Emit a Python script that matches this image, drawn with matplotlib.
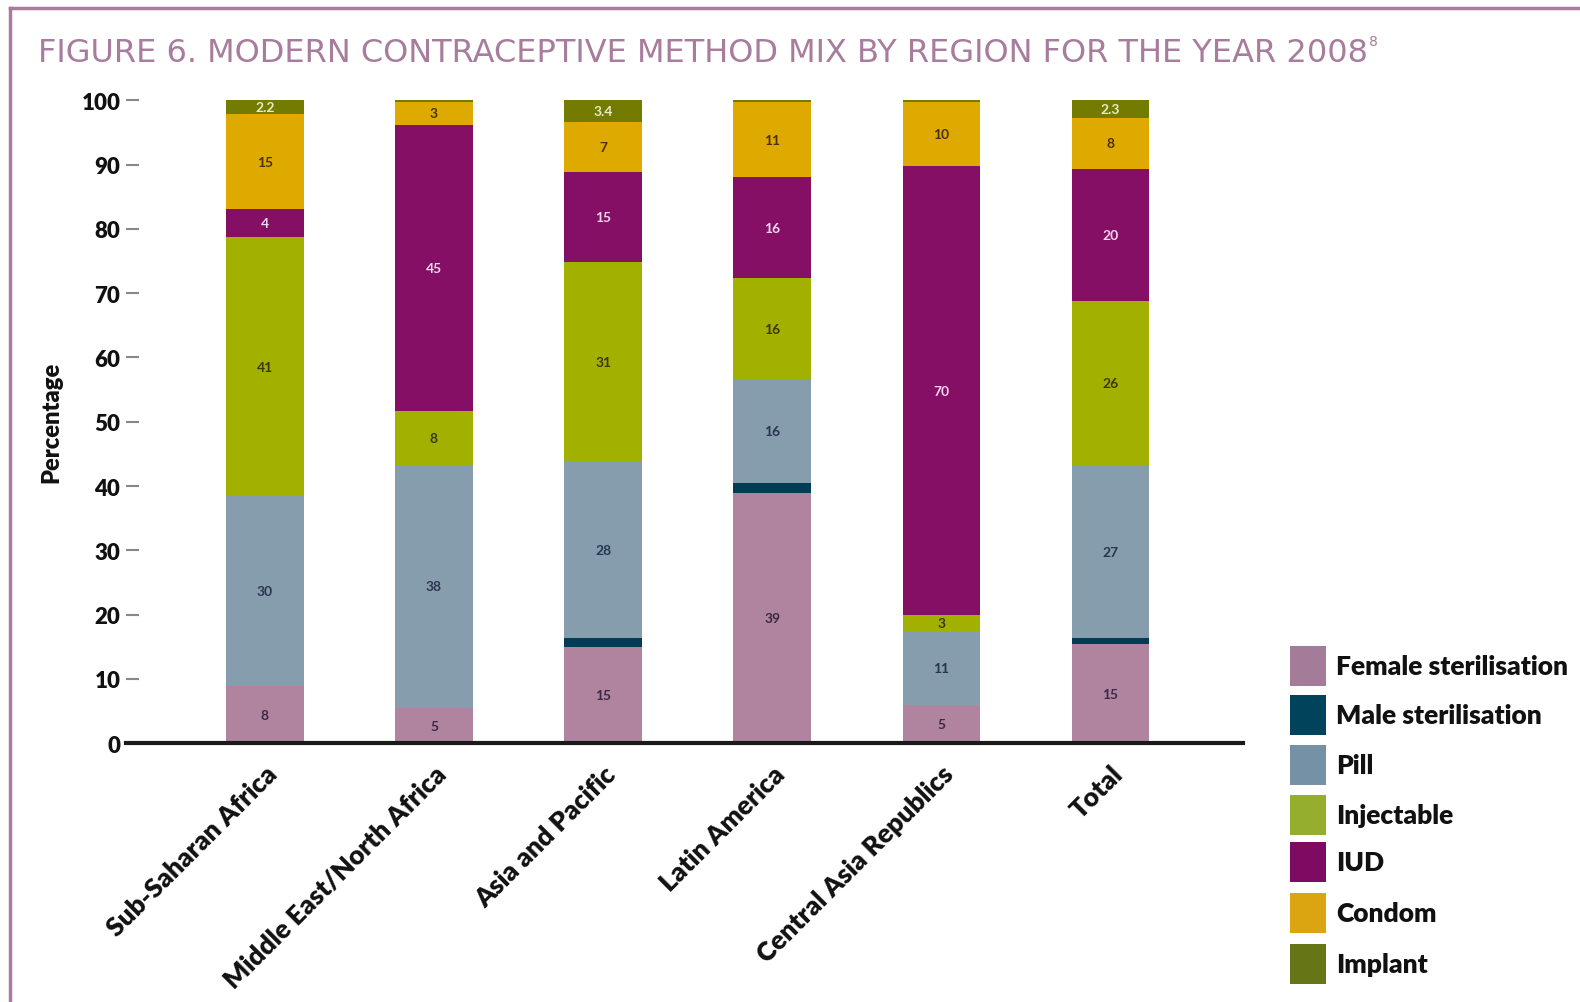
import matplotlib
matplotlib.use("Agg")
import matplotlib.pyplot as plt
from matplotlib.patches import Rectangle
from matplotlib.lines import Line2D
import numpy as np

regions = ["Sub-Saharan Africa", "Middle East/North Africa", "Asia and Pacific",
           "Latin America", "Central Asia Republics", "Total"]
methods = ["Female sterilisation", "Male sterilisation", "Pill", "Injectable",
           "IUD", "Condom", "Implant"]

female = [8.9, 5.5, 14.9, 38.9, 6.0, 15.4]
male = [0.0, 0.0, 1.4, 1.5, 0.0, 0.9]
pill = [29.5, 37.8, 27.6, 16.2, 11.4, 27.0]
injectable = [40.3, 8.3, 30.9, 15.7, 2.5, 25.5]
iud = [4.4, 44.6, 14.1, 15.7, 69.9, 20.5]
condom = [14.7, 3.5, 7.8, 11.8, 9.9, 8.0]
implant = [2.2, 0.3, 3.3, 0.3, 0.3, 2.7]

female_lbl = ["8", "5", "15", "39", "5", "15"]
male_lbl = ["", "", "", "", "", ""]
pill_lbl = ["30", "38", "28", "16", "11", "27"]
injectable_lbl = ["41", "8", "31", "16", "3", "26"]
iud_lbl = ["4", "45", "15", "16", "70", "20"]
condom_lbl = ["15", "3", "7", "11", "10", "8"]
implant_lbl = ["2.2", "", "3.4", "", "", "2.3"]

yticks = [0, 10, 20, 30, 40, 50, 60, 70, 80, 90, 100]

series = [female, male, pill, injectable, iud, condom, implant]
labels = [female_lbl, male_lbl, pill_lbl, injectable_lbl, iud_lbl, condom_lbl, implant_lbl]
bar_colors = ["#B0839F", "#003D55", "#869DAE", "#A2B000", "#850F65", "#DEAA00", "#737C00"]
legend_colors = ["#A57B9A", "#00435A", "#7491A5", "#96AE2E", "#7D0B62", "#DBA511", "#667515"]
text_colors = ["#3B2A45", "#FFFFFF", "#2A3550", "#3A3A00", "#F2D6F0", "#4A3000", "#E4ECC8"]

border = "#A87C9C"

fig = plt.figure(figsize=(15.8, 10.03), dpi=100)
ax = fig.add_axes([0.0797, 0.258, 0.7067, 0.641])

x = np.arange(len(regions))
bottom = np.zeros(len(regions))
width = 0.46
for vals, lbls, c, tc in zip(series, labels, bar_colors, text_colors):
    v = np.array(vals)
    ax.bar(x, v, width=width, bottom=bottom, color=c, edgecolor="none", zorder=2)
    for xi, b, h, s in zip(x, bottom, v, lbls):
        if s:
            ax.text(xi, b + h / 2, s, ha="center", va="center", fontsize=10,
                    fontweight="bold", color=tc, family="Lato", zorder=3)
    bottom += v

ax.set_xlim(-0.821, 5.78)
ax.set_ylim(0, 100)
for s in ["top", "right", "left"]:
    ax.spines[s].set_visible(False)
ax.spines["bottom"].set_linewidth(3)
ax.spines["bottom"].set_color("#1A1A1A")
ax.spines["bottom"].set_zorder(4)

ax.set_yticks(yticks)
ax.set_yticklabels([str(t) for t in yticks], fontsize=16, fontweight="heavy",
                   family="Lato", color="#111111")
ax.tick_params(axis="y", direction="in", length=9, width=1.5, color="#888888", pad=4)
ax.set_xticks(x)
ax.set_xticklabels(regions, rotation=45, ha="right", rotation_mode="anchor",
                   fontsize=19, fontweight="heavy", family="Lato", color="#111111")
ax.tick_params(axis="x", length=0, pad=13)
ax.set_ylabel("Percentage", fontsize=17, fontweight="heavy", family="Lato",
              color="#111111", labelpad=14)

# title
t = fig.text(0.024, 0.947, "FIGURE 6. MODERN CONTRACEPTIVE METHOD MIX BY REGION FOR THE YEAR 2008",
             fontsize=23, color=border, family=["DejaVu Sans"],
             va="center", ha="left")
fig.canvas.draw()
bb = t.get_window_extent()
fig.text(bb.x1 / fig.bbox.width + 0.001, 0.958, "8", fontsize=10, color=border,
         family=["DejaVu Sans"], va="center", ha="left")

# frame lines (top and left border)
fig.add_artist(Line2D([0.0063, 1.0], [0.991, 0.991], transform=fig.transFigure,
                      color=border, lw=2.5))
fig.add_artist(Line2D([0.0063, 0.0063], [0.0, 0.991], transform=fig.transFigure,
                      color=border, lw=2.5))

# legend
lx = 1290 / 1580
ys = [667, 716, 766, 816, 863, 914, 965]
for m, c, yy in zip(methods, legend_colors, ys):
    yf = 1 - yy / 1003
    fig.add_artist(Rectangle((lx, yf - 20 / 1003), 36 / 1580, 40 / 1003,
                             transform=fig.transFigure, color=c, lw=0))
    fig.text(lx + 46 / 1580, yf, m, fontsize=19, fontweight="heavy", family="Lato",
             color="#111111", va="center", ha="left")

fig.savefig("out.png", dpi=100)
